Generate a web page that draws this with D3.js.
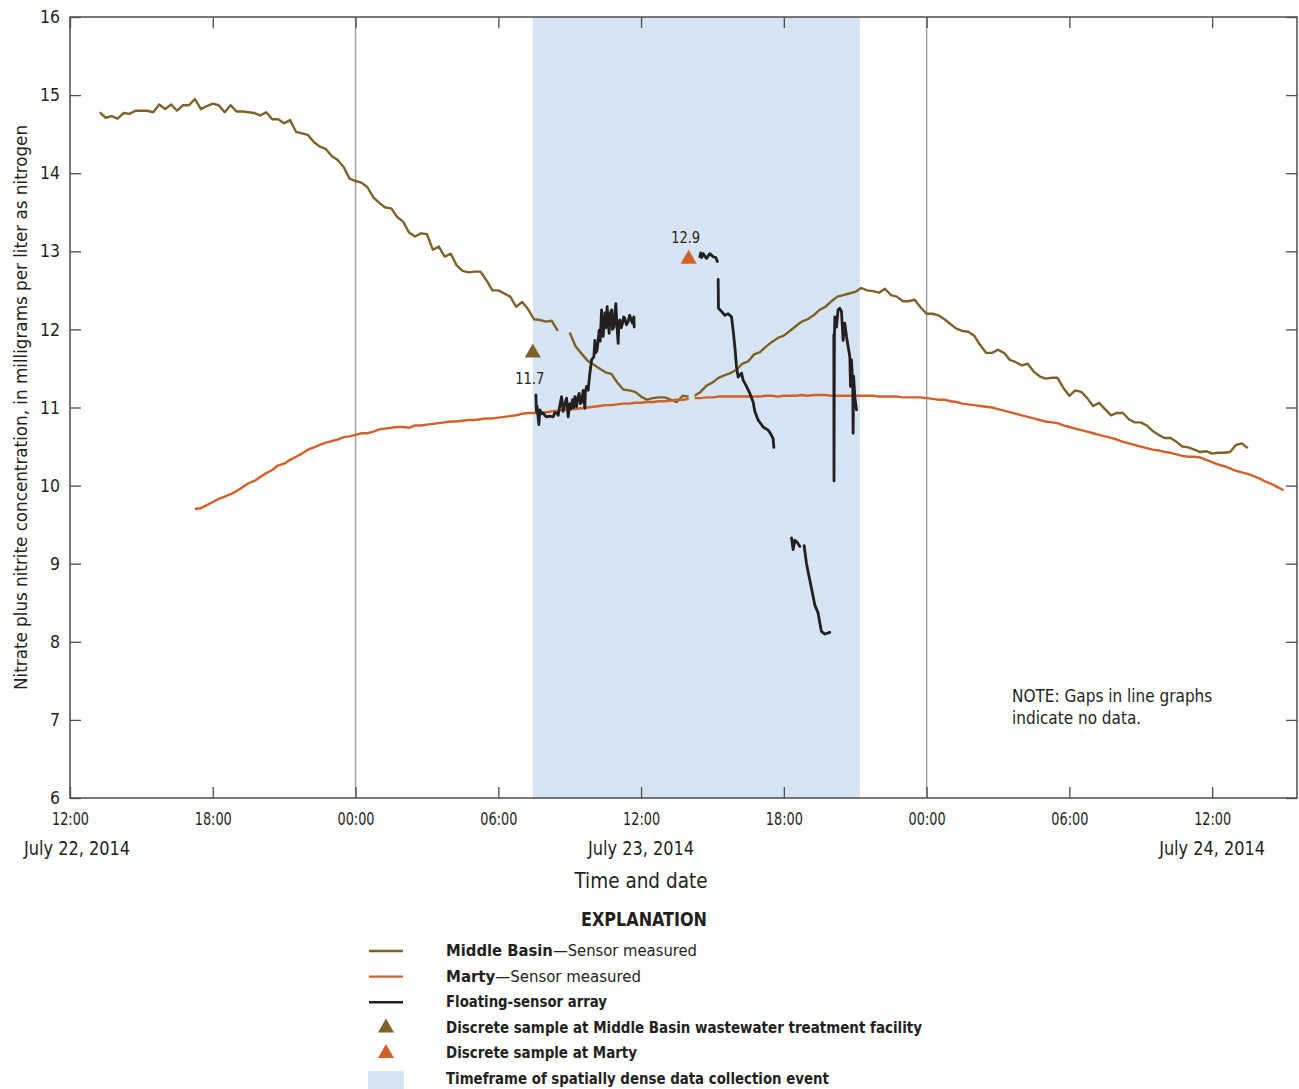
<!DOCTYPE html>
<html>
<head>
<meta charset="utf-8">
<script src="https://cdn.jsdelivr.net/npm/d3@7"></script>
<style>
  body { margin: 0; background: #fff; }
  svg { display: block; }
  text { font-family: "Liberation Sans Narrow", "Arial Narrow", "DejaVu Sans Condensed", sans-serif; fill: #231f20; }
</style>
</head>
<body>
<svg id="chart" width="1299" height="1089"></svg>
<script>
// ---- Axis ticks and labels ----
const tickTimes = ["2014-07-22T12:00", "2014-07-22T18:00", "2014-07-23T00:00", "2014-07-23T06:00",
  "2014-07-23T12:00", "2014-07-23T18:00", "2014-07-24T00:00", "2014-07-24T06:00", "2014-07-24T12:00"];
const tickLabels = ["12:00", "18:00", "00:00", "06:00", "12:00", "18:00", "00:00", "06:00", "12:00"];
const dateTicks = ["2014-07-22T12:00", "2014-07-23T12:00", "2014-07-24T12:00"];
const dateLabels = ["July 22, 2014", "July 23, 2014", "July 24, 2014"];
const yTicks = [6, 7, 8, 9, 10, 11, 12, 13, 14, 15, 16];
const midnights = ["2014-07-23T00:00", "2014-07-24T00:00"];
const timeDomain = ["2014-07-22T12:00", "2014-07-24T15:34"];
const denseWindow = ["2014-07-23T07:27", "2014-07-23T21:12"];

// ---- Middle Basin sensor, 15-minute readings (runs separated by missing data) ----
const middleBasinStartA = "2014-07-22T13:15";
const middleBasinA = [14.78, 14.71, 14.73, 14.70, 14.77, 14.76, 14.80, 14.80, 14.80, 14.78,
  14.88, 14.82, 14.88, 14.80, 14.87, 14.87, 14.95, 14.82, 14.86, 14.89,
  14.87, 14.78, 14.87, 14.79, 14.79, 14.78, 14.77, 14.74, 14.78, 14.69,
  14.69, 14.64, 14.68, 14.53, 14.51, 14.49, 14.40, 14.34, 14.31, 14.22,
  14.17, 14.08, 13.93, 13.90, 13.88, 13.82, 13.69, 13.62, 13.56, 13.55,
  13.44, 13.38, 13.24, 13.19, 13.23, 13.22, 13.02, 13.06, 12.93, 12.97,
  12.82, 12.75, 12.73, 12.74, 12.74, 12.63, 12.50, 12.50, 12.46, 12.42,
  12.29, 12.35, 12.26, 12.13, 12.12, 12.10, 12.11, 11.98];
const middleBasinStartB = "2014-07-23T09:00";
const middleBasinB = [11.96, 11.78, 11.69, 11.60, 11.55, 11.50, 11.45, 11.43, 11.32, 11.23,
  11.22, 11.20, 11.14, 11.10, 11.12, 11.13, 11.13, 11.10, 11.07, 11.15, 11.14];
const middleBasinStartC = "2014-07-23T14:15";
const middleBasinC = [11.15, 11.20, 11.28, 11.32, 11.38, 11.41, 11.44, 11.48, 11.56, 11.59,
  11.68, 11.71, 11.78, 11.84, 11.89, 11.92, 11.98, 12.04, 12.10, 12.13,
  12.18, 12.25, 12.29, 12.36, 12.42, 12.44, 12.46, 12.48, 12.53, 12.50,
  12.49, 12.47, 12.52, 12.44, 12.42, 12.36, 12.36, 12.38, 12.28, 12.20,
  12.20, 12.18, 12.13, 12.07, 12.01, 11.98, 11.97, 11.92, 11.80, 11.70,
  11.70, 11.74, 11.70, 11.61, 11.58, 11.54, 11.56, 11.46, 11.40, 11.37,
  11.38, 11.38, 11.25, 11.15, 11.22, 11.20, 11.12, 11.02, 11.06, 10.98,
  10.90, 10.93, 10.93, 10.85, 10.81, 10.81, 10.77, 10.70, 10.65, 10.61,
  10.61, 10.56, 10.50, 10.49, 10.46, 10.43, 10.44, 10.41, 10.42, 10.42,
  10.43, 10.52, 10.54, 10.48];

// ---- Marty sensor, 15-minute readings ----
const martyStartA = "2014-07-22T17:15";
const martyA = [9.70, 9.71, 9.75, 9.79, 9.83, 9.86, 9.89, 9.93, 9.98, 10.03,
  10.06, 10.11, 10.16, 10.20, 10.26, 10.28, 10.33, 10.37, 10.41, 10.46,
  10.49, 10.52, 10.55, 10.57, 10.59, 10.62, 10.63, 10.65, 10.67, 10.67,
  10.69, 10.72, 10.73, 10.74, 10.75, 10.75, 10.74, 10.77, 10.77, 10.78,
  10.79, 10.80, 10.81, 10.82, 10.82, 10.83, 10.84, 10.84, 10.85, 10.86,
  10.86, 10.87, 10.88, 10.89, 10.90, 10.92, 10.93, 10.93, 10.93, 10.94,
  10.95, 10.96, 10.97, 10.98, 10.98, 10.99, 11.00, 11.01, 11.02, 11.03,
  11.03, 11.04, 11.05, 11.05, 11.06, 11.06, 11.07, 11.07, 11.08, 11.08,
  11.09, 11.10, 11.10, 11.11];
const martyStartB = "2014-07-23T14:15";
const martyB = [11.12, 11.12, 11.13, 11.13, 11.14, 11.14, 11.14, 11.14, 11.14, 11.14,
  11.14, 11.14, 11.15, 11.15, 11.14, 11.15, 11.15, 11.15, 11.16, 11.15,
  11.16, 11.16, 11.16, 11.15, 11.15, 11.15, 11.15, 11.15, 11.15, 11.15,
  11.15, 11.14, 11.14, 11.14, 11.14, 11.13, 11.13, 11.13, 11.13, 11.12,
  11.11, 11.10, 11.10, 11.08, 11.07, 11.05, 11.04, 11.03, 11.02, 11.01,
  11.00, 10.98, 10.96, 10.94, 10.92, 10.90, 10.88, 10.86, 10.84, 10.82,
  10.81, 10.80, 10.77, 10.75, 10.73, 10.71, 10.69, 10.67, 10.65, 10.63,
  10.61, 10.59, 10.56, 10.54, 10.52, 10.50, 10.48, 10.46, 10.45, 10.43,
  10.42, 10.40, 10.38, 10.37, 10.37, 10.36, 10.33, 10.30, 10.27, 10.25,
  10.22, 10.19, 10.17, 10.15, 10.12, 10.09, 10.05, 10.02, 9.98, 9.94];

// ---- Floating-sensor array passes on July 23 (clock time, value) ----
const floatDay = "2014-07-23";
const floatPass1 = [["07:34:48", 11.16], ["07:36:00", 10.95], ["07:37:30", 11.02], ["07:42:18", 10.78],
  ["07:44:54", 10.97], ["07:49:00", 10.92], ["07:53:12", 10.93], ["07:57:00", 10.90], ["08:01:42", 10.88],
  ["08:10:00", 10.89], ["08:18:24", 10.88], ["08:22:00", 10.93], ["08:26:54", 10.93], ["08:31:00", 10.90],
  ["08:35:00", 11.02], ["08:39:36", 11.14], ["08:43:36", 10.95], ["08:48:00", 11.05], ["08:52:12", 11.12],
  ["08:56:12", 10.88], ["09:00:30", 11.05], ["09:03:00", 10.98], ["09:07:18", 11.10], ["09:10:00", 11.00],
  ["09:13:06", 11.14], ["09:17:24", 11.01], ["09:20:00", 11.12], ["09:23:54", 11.18], ["09:27:00", 11.05],
  ["09:30:00", 11.07], ["09:34:00", 11.22], ["09:38:18", 10.99], ["09:39:30", 11.20], ["09:42:36", 11.27],
  ["09:46:36", 11.22], ["09:50:00", 11.40], ["09:55:12", 11.61], ["10:01:00", 11.65], ["10:03:30", 11.86],
  ["10:06:00", 11.70], ["10:09:18", 11.74], ["10:14:24", 11.99], ["10:17:00", 11.85], ["10:20:24", 12.25],
  ["10:22:00", 12.05], ["10:24:30", 11.91], ["10:28:42", 12.21], ["10:31:00", 12.02], ["10:34:30", 12.29],
  ["10:37:00", 12.10], ["10:39:36", 11.95], ["10:42:00", 12.20], ["10:45:36", 12.25], ["10:48:00", 12.00],
  ["10:51:24", 12.03], ["10:54:00", 12.22], ["10:56:30", 12.33], ["10:59:00", 12.05], ["11:02:18", 11.82],
  ["11:04:00", 12.10], ["11:06:36", 12.12], ["11:10:00", 12.02], ["11:13:24", 12.08], ["11:16:00", 12.16],
  ["11:19:12", 12.14], ["11:23:00", 12.06], ["11:27:30", 12.10], ["11:31:00", 12.18], ["11:34:18", 12.14],
  ["11:38:00", 12.08], ["11:41:48", 12.16], ["11:42:36", 12.03]];
const floatPass2 = [["14:28:12", 12.93], ["14:30:42", 12.98], ["14:33:00", 12.92], ["14:36:36", 12.97],
  ["14:45:06", 12.91], ["14:53:24", 12.97], ["15:01:48", 12.93], ["15:08:36", 12.92], ["15:12:24", 12.87]];
const floatPass3 = [["15:14:24", 12.64], ["15:15:12", 12.27], ["15:22:54", 12.23], ["15:31:12", 12.18],
  ["15:39:30", 12.20], ["15:48:06", 12.16], ["15:52:06", 11.99], ["15:56:30", 11.78], ["16:00:42", 11.52],
  ["16:04:48", 11.39], ["16:13:18", 11.44], ["16:17:24", 11.35], ["16:25:54", 11.27], ["16:34:18", 11.18],
  ["16:42:36", 11.07], ["16:46:54", 10.95], ["16:55:12", 10.84], ["17:07:48", 10.75], ["17:20:24", 10.71],
  ["17:27:12", 10.66], ["17:33:00", 10.60], ["17:34:48", 10.49]];
const floatPass4 = [["18:19:24", 9.33], ["18:23:24", 9.18], ["18:27:42", 9.30], ["18:34:00", 9.27],
  ["18:40:18", 9.22]];
const floatPass5 = [["18:51:12", 9.23], ["18:57:12", 9.00], ["19:05:30", 8.79], ["19:13:54", 8.58],
  ["19:18:06", 8.47], ["19:26:24", 8.37], ["19:30:48", 8.24], ["19:35:00", 8.13], ["19:43:24", 8.10],
  ["19:56:00", 8.12]];
const floatPass6 = [["20:06:00", 11.93], ["20:06:30", 10.06], ["20:07:30", 11.90], ["20:08:36", 12.16],
  ["20:12:48", 12.03], ["20:16:48", 12.25], ["20:21:12", 12.27], ["20:25:24", 12.23], ["20:29:24", 11.86],
  ["20:33:48", 12.08], ["20:38:00", 11.91], ["20:42:06", 11.78], ["20:46:24", 11.65], ["20:48:06", 11.27],
  ["20:50:36", 11.61], ["20:53:54", 11.27], ["20:54:42", 10.67], ["20:56:00", 11.40], ["20:59:00", 11.14],
  ["21:03:18", 10.97]];

// ---- Discrete samples ----
const sampleSites = ["Middle Basin", "Marty"];
const sampleTimes = ["2014-07-23T07:27", "2014-07-23T14:00"];
const sampleValues = [11.7, 12.9];

// ---- Colours ----
const colMiddle = "#7f6229";
const colMarty = "#d2602a";
const colFloat = "#231f20";
const colShade = "#d6e5f3";
const colFrame = "#4d4d4d";

const parse = d3.timeParse("%Y-%m-%dT%H:%M");
const parseClock = d3.timeParse("%Y-%m-%d %H:%M:%S");

function regular(start, values) {
  const t0 = parse(start);
  return values.map((v, i) => ({ t: d3.timeMinute.offset(t0, 15 * i), v }));
}
function clocked(pairs) {
  return pairs.map(([c, v]) => ({ t: parseClock(floatDay + " " + c), v }));
}
// squeeze a label horizontally to a set width (condensed face)
function fit(sel, width) {
  sel.attr("textLength", width).attr("lengthAdjust", "spacingAndGlyphs");
}

const svg = d3.select("#chart");
const plotLeft = 70, plotRight = 1297, plotTop = 17, plotBottom = 798;

const x = d3.scaleTime().domain(timeDomain.map(parse)).range([plotLeft, plotRight]);
const y = d3.scaleLinear().domain([6, 16]).range([plotBottom, plotTop]);

// shaded collection window
svg.append("rect")
  .attr("x", x(parse(denseWindow[0])))
  .attr("y", plotTop)
  .attr("width", x(parse(denseWindow[1])) - x(parse(denseWindow[0])))
  .attr("height", plotBottom - plotTop)
  .attr("fill", colShade);

// midnight reference lines
svg.selectAll("line.midnight").data(midnights).join("line")
  .attr("class", "midnight")
  .attr("x1", d => x(parse(d))).attr("x2", d => x(parse(d)))
  .attr("y1", plotTop).attr("y2", plotBottom)
  .attr("stroke", "#9a9a9a").attr("stroke-width", 1.4);

const line = d3.line().x(d => x(d.t)).y(d => y(d.v));

const plot = svg.append("g");
[[middleBasinStartA, middleBasinA], [middleBasinStartB, middleBasinB], [middleBasinStartC, middleBasinC]]
  .forEach(([s, vals]) => {
    plot.append("path").datum(regular(s, vals)).attr("d", line)
      .attr("fill", "none").attr("stroke", colMiddle).attr("stroke-width", 2.4)
      .attr("stroke-linejoin", "round");
  });
[[martyStartA, martyA], [martyStartB, martyB]].forEach(([s, vals]) => {
  plot.append("path").datum(regular(s, vals)).attr("d", line)
    .attr("fill", "none").attr("stroke", colMarty).attr("stroke-width", 2.4)
    .attr("stroke-linejoin", "round");
});
[floatPass1, floatPass2, floatPass3, floatPass4, floatPass5, floatPass6].forEach(p => {
  plot.append("path").datum(clocked(p)).attr("d", line)
    .attr("fill", "none").attr("stroke", colFloat).attr("stroke-width", 2.8)
    .attr("stroke-linejoin", "round").attr("stroke-linecap", "round");
});

// discrete samples
const tri = d3.symbol().type(d3.symbolTriangle).size(112);
const sampleColours = [colMiddle, colMarty];
const labelOffsets = [31, -16];
sampleValues.forEach((v, i) => {
  const cx = x(parse(sampleTimes[i])), cy = y(v);
  svg.append("path").attr("d", tri()).attr("transform", `translate(${cx},${cy})`)
    .attr("fill", sampleColours[i]);
  svg.append("text").attr("x", cx - 3).attr("y", cy + labelOffsets[i])
    .attr("text-anchor", "middle").attr("font-size", 16.5).text(d3.format(".1f")(v))
    .call(fit, 29);
});

// frame and axes
const axisStyle = g => {
  g.select(".domain").remove();
  g.selectAll(".tick line").attr("stroke", colFrame).attr("stroke-width", 1.3);
  g.selectAll(".tick text").attr("font-size", 17.5).attr("fill", "#231f20");
};
svg.append("g").attr("transform", `translate(0,${plotBottom})`)
  .call(d3.axisBottom(x).tickValues(tickTimes.map(parse)).tickSize(-11).tickPadding(15)
    .tickFormat((d, i) => tickLabels[i]))
  .call(axisStyle)
  .call(g => g.selectAll(".tick text").call(fit, 37));
svg.append("g").attr("transform", `translate(0,${plotTop})`)
  .call(d3.axisTop(x).tickValues(tickTimes.map(parse)).tickSize(-11).tickFormat(""))
  .call(axisStyle);
svg.append("g").attr("transform", `translate(${plotLeft},0)`)
  .call(d3.axisLeft(y).tickValues(yTicks).tickSize(-11).tickPadding(10).tickFormat(d3.format("d")))
  .call(axisStyle);
svg.append("g").attr("transform", `translate(${plotRight},0)`)
  .call(d3.axisRight(y).tickValues(yTicks).tickSize(-11).tickFormat(""))
  .call(axisStyle);
svg.append("rect").attr("x", plotLeft).attr("y", plotTop)
  .attr("width", plotRight - plotLeft).attr("height", plotBottom - plotTop)
  .attr("fill", "none").attr("stroke", colFrame).attr("stroke-width", 1.5);

// date labels under the noon ticks (first one kept inside the page edge)
svg.selectAll("text.date").data(dateLabels).join("text")
  .attr("class", "date")
  .attr("x", (d, i) => Math.max(x(parse(dateTicks[i])), 24 + 53))
  .attr("y", 855).attr("text-anchor", "middle").attr("font-size", 20).text(d => d)
  .call(fit, 106);

svg.append("text").attr("x", 641).attr("y", 888).attr("text-anchor", "middle")
  .attr("font-size", 22).text("Time and date").call(fit, 133);

svg.append("text").attr("transform", `translate(27,${(plotTop + plotBottom) / 2}) rotate(-90)`)
  .attr("text-anchor", "middle").attr("font-size", 18.5)
  .text("Nitrate plus nitrite concentration, in milligrams per liter as nitrogen")
  .call(fit, 565);

// note
const note = svg.append("text").attr("x", 1012).attr("y", 702).attr("font-size", 17);
note.append("tspan").attr("x", 1012).attr("dy", 0).text("NOTE: Gaps in line graphs");
note.append("tspan").attr("x", 1012).attr("dy", 22).text("indicate no data.");

// explanation
svg.append("text").attr("x", 644).attr("y", 926).attr("text-anchor", "middle")
  .attr("font-size", 20).attr("font-weight", "bold").text("EXPLANATION").call(fit, 126);

const legendRows = [
  { kind: "line", colour: colMiddle, bold: "Middle Basin", rest: "\u2014Sensor measured", width: 251 },
  { kind: "line", colour: colMarty, bold: "Marty", rest: "\u2014Sensor measured", width: 195 },
  { kind: "line", colour: colFloat, bold: "Floating-sensor array", rest: "", width: 161 },
  { kind: "tri", colour: colMiddle, bold: "Discrete sample at Middle Basin wastewater treatment facility", rest: "", width: 476 },
  { kind: "tri", colour: colMarty, bold: "Discrete sample at Marty", rest: "", width: 191 },
  { kind: "box", colour: colShade, bold: "Timeframe of spatially dense data collection event", rest: "", width: 383 }
];
const legend = svg.append("g");
legendRows.forEach((r, i) => {
  const base = 956 + i * 25.6;
  const mid = base - 5;
  if (r.kind === "line") {
    legend.append("line").attr("x1", 369).attr("x2", 403).attr("y1", mid).attr("y2", mid)
      .attr("stroke", r.colour).attr("stroke-width", 2.4);
  } else if (r.kind === "tri") {
    legend.append("path").attr("d", d3.symbol().type(d3.symbolTriangle).size(112)())
      .attr("transform", `translate(386,${mid})`).attr("fill", r.colour);
  } else {
    legend.append("rect").attr("x", 368).attr("y", mid - 8).attr("width", 36).attr("height", 18)
      .attr("fill", r.colour);
  }
  const t = legend.append("text").attr("x", 446).attr("y", base).attr("font-size", 16.5);
  t.append("tspan").attr("font-weight", "bold").text(r.bold);
  if (r.rest) t.append("tspan").text(r.rest);
  t.call(fit, r.width);
});
</script>
</body>
</html>
